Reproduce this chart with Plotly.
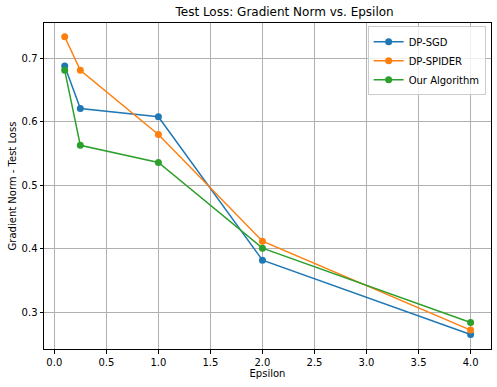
import plotly.graph_objects as go

epsilon = [0.1, 0.25, 1.0, 2.0, 4.0]
dp_sgd = [0.688, 0.621, 0.608, 0.382, 0.265]
dp_spider = [0.734, 0.681, 0.580, 0.412, 0.272]
our_algo = [0.681, 0.563, 0.536, 0.401, 0.284]
series_names = ["DP-SGD", "DP-SPIDER", "Our Algorithm"]
colors = ["#1f77b4", "#ff7f0e", "#2ca02c"]

x_ticks = [0.0, 0.5, 1.0, 1.5, 2.0, 2.5, 3.0, 3.5, 4.0]
y_ticks = [0.3, 0.4, 0.5, 0.6, 0.7]

fig = go.Figure()
for name, vals, c in zip(series_names, [dp_sgd, dp_spider, our_algo], colors):
    fig.add_trace(go.Scatter(
        x=epsilon, y=vals, name=name, mode="lines+markers",
        line=dict(color=c, width=1.5),
        marker=dict(color=c, size=7),
    ))

axis_common = dict(
    showline=True, linecolor="black", linewidth=1, mirror=True,
    ticks="outside", ticklen=3.5, tickcolor="black", tickwidth=1,
    showgrid=True, gridcolor="#b0b0b0", gridwidth=1,
    zeroline=False, tickfont=dict(size=10, color="black"),
    automargin=False,
)

fig.update_layout(
    width=497, height=387,
    margin=dict(l=44, r=6, t=23, b=38),
    paper_bgcolor="white", plot_bgcolor="white",
    font=dict(family="DejaVu Sans", color="black"),
    title=dict(text="Test Loss: Gradient Norm vs. Epsilon", x=(44 + 491) / 2 / 497, xref="paper",
               xanchor="center", y=1 - 12 / 387, yanchor="middle", font=dict(size=12),
               automargin=False),
    xaxis=dict(range=[-0.099, 4.196], tickvals=x_ticks,
               ticktext=[f"{v:.1f}" for v in x_ticks],
               title=dict(text="Epsilon", font=dict(size=10), standoff=3), **axis_common),
    yaxis=dict(range=[0.2422, 0.7556], tickvals=y_ticks,
               ticktext=[f"{v:.1f}" for v in y_ticks],
               title=dict(text="Gradient Norm - Test Loss", font=dict(size=10), standoff=3), **axis_common),
    legend=dict(x=0.988, y=0.99, xanchor="right", yanchor="top",
                bgcolor="rgba(255,255,255,0.8)", bordercolor="#cccccc", borderwidth=1,
                font=dict(size=10), tracegroupgap=0, itemwidth=30),
    showlegend=True,
)

fig.write_html("out.html", config={"displayModeBar": False},
               post_script="document.body.style.margin='0';document.body.style.padding='0';")
